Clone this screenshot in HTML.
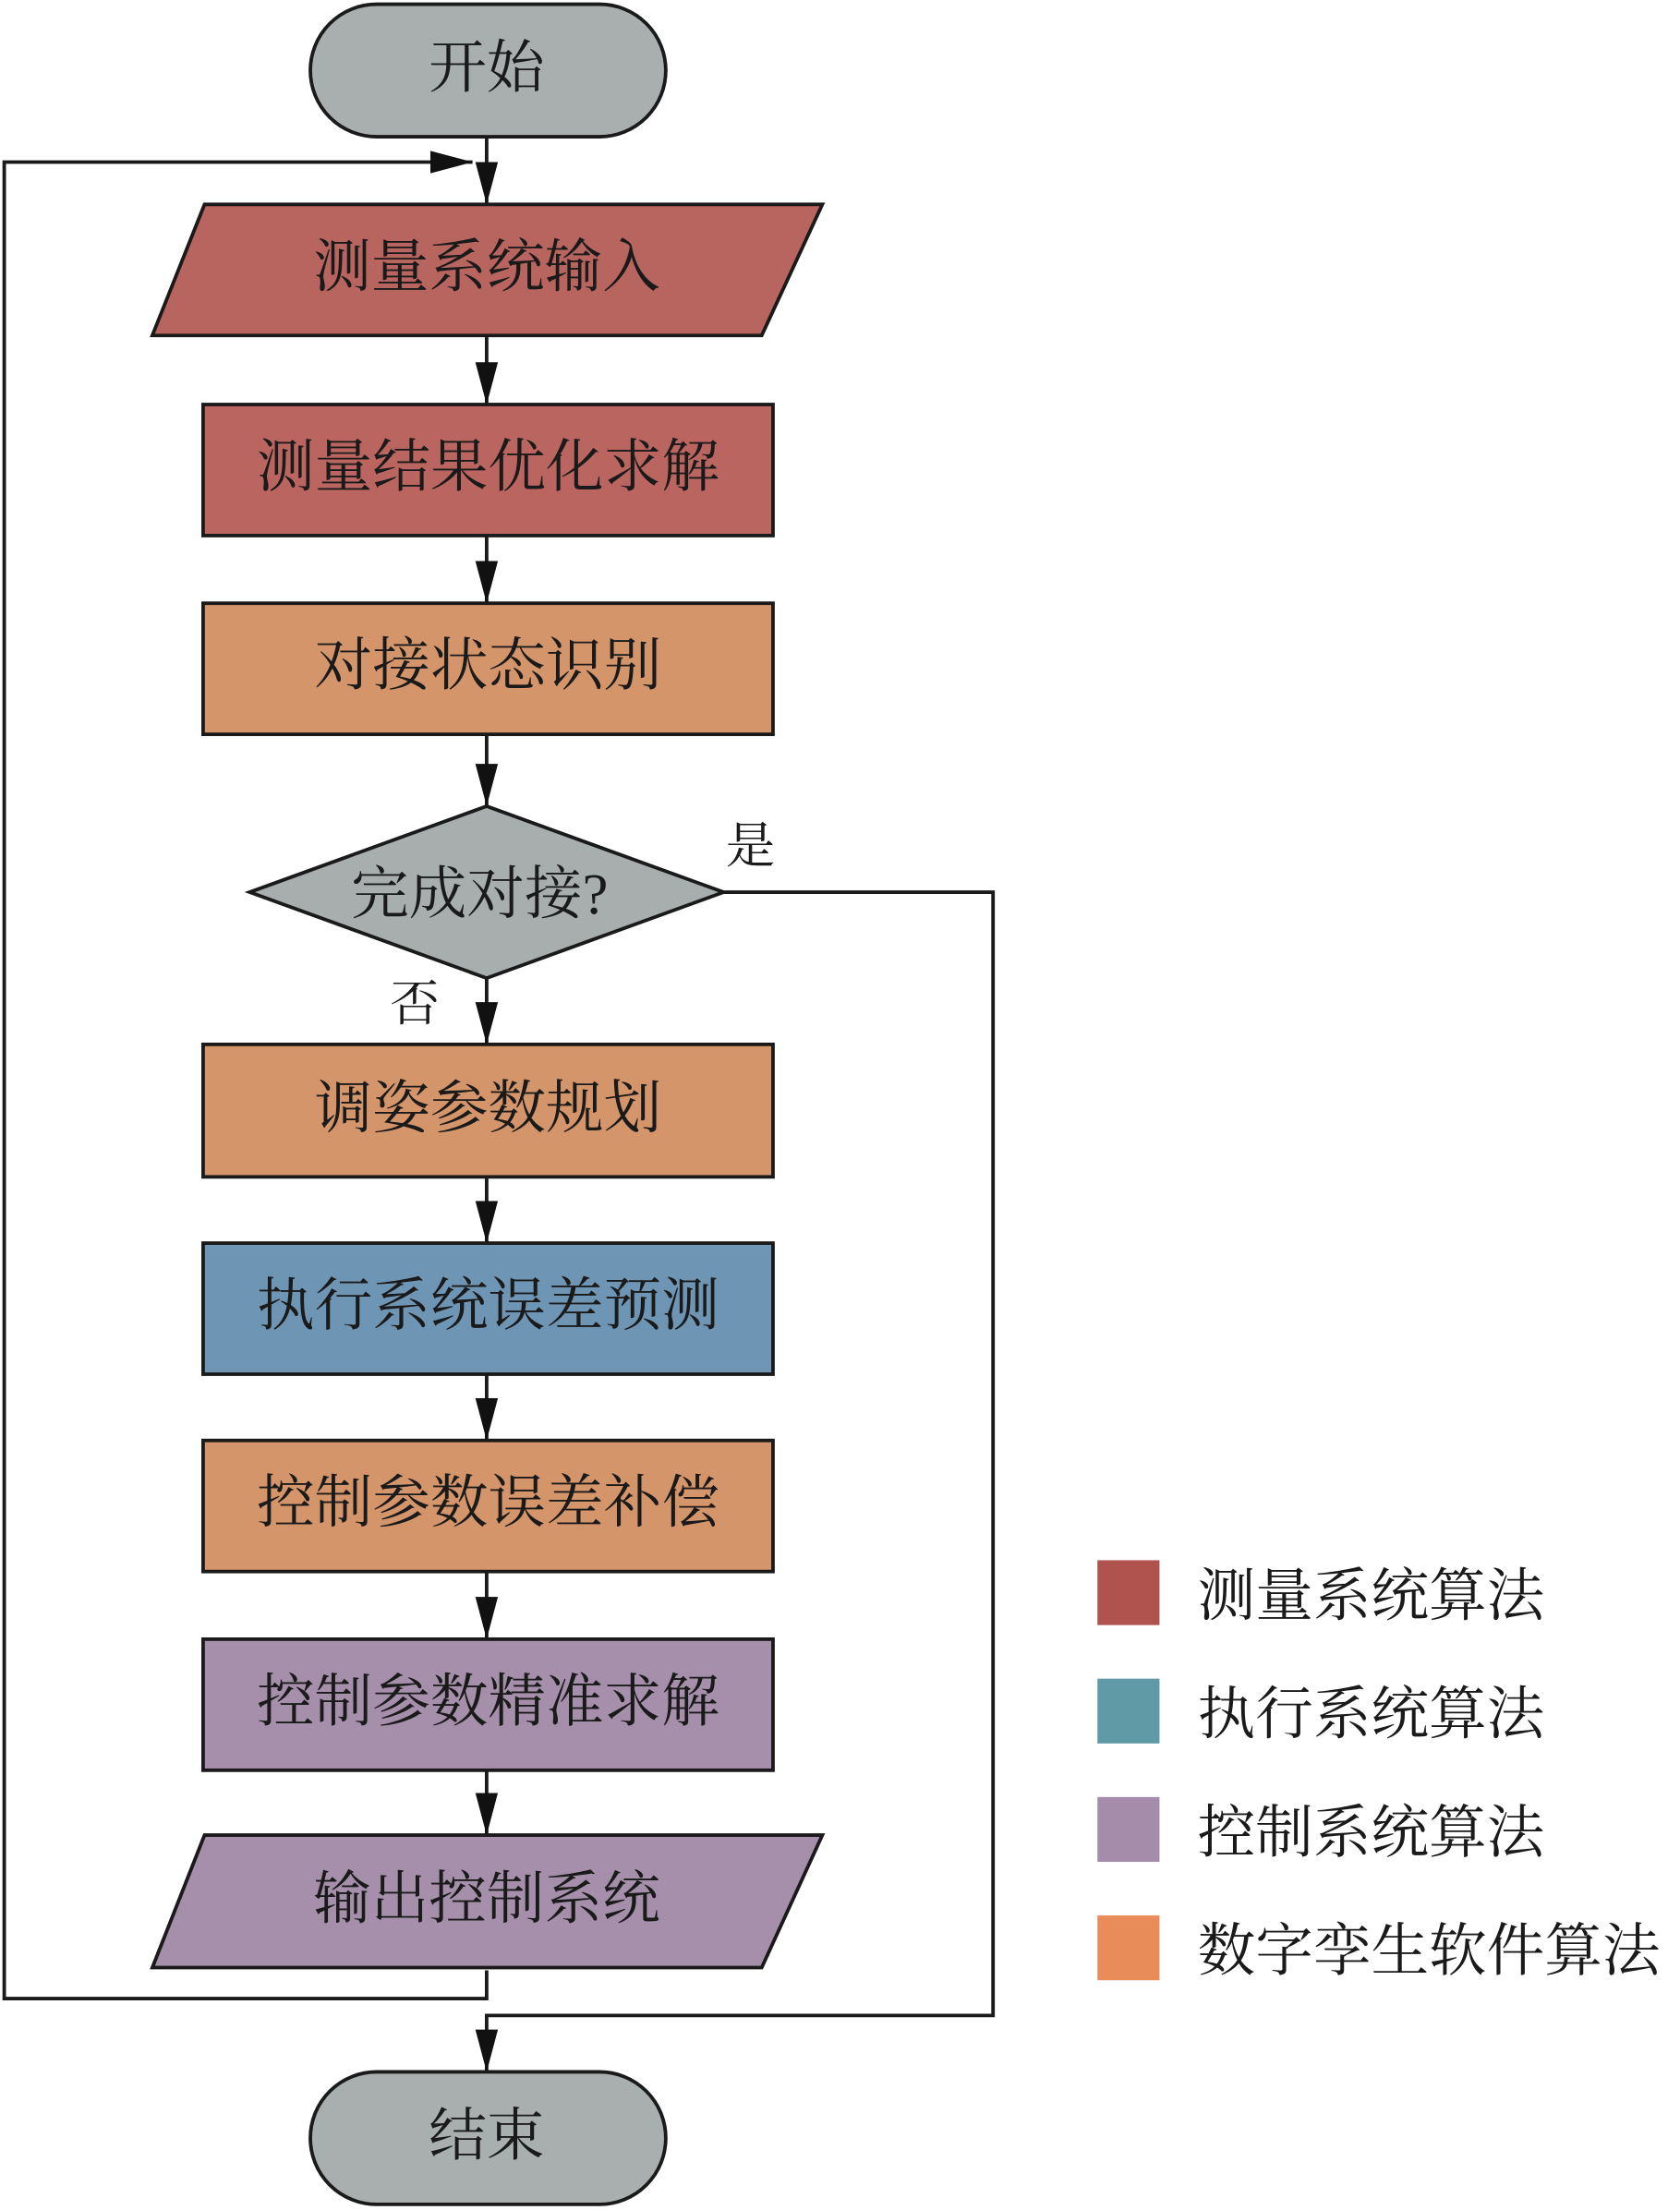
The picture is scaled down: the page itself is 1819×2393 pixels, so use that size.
<!DOCTYPE html>
<html><head><meta charset="utf-8"><style>
html,body{margin:0;padding:0;background:#fff;}
svg{display:block;}
text{font-family:"Liberation Serif","Noto Serif CJK SC",serif;fill:#1a1a1a;}
</style></head><body>
<svg width="1819" height="2393" viewBox="0 0 1191 1568" preserveAspectRatio="none" xmlns="http://www.w3.org/2000/svg">
<defs>
<marker id="a" markerWidth="30" markerHeight="16" refX="30" refY="8" orient="auto" markerUnits="userSpaceOnUse">
<path d="M0,0 L30,8 L0,16 Z" fill="#111"/>
</marker>
</defs>
<g stroke="#1a1a1a" stroke-width="2.5" fill="none">
<line x1="345" y1="97" x2="345" y2="145" marker-end="url(#a)"/>
<polyline points="345,1398 345,1418 3,1418 3,115 335,115" marker-end="url(#a)"/>
<line x1="345" y1="238" x2="345" y2="287" marker-end="url(#a)"/>
<line x1="345" y1="380" x2="345" y2="428" marker-end="url(#a)"/>
<line x1="345" y1="521" x2="345" y2="572" marker-end="url(#a)"/>
<line x1="345" y1="694" x2="345" y2="741" marker-end="url(#a)"/>
<line x1="345" y1="835" x2="345" y2="882" marker-end="url(#a)"/>
<line x1="345" y1="975" x2="345" y2="1022" marker-end="url(#a)"/>
<line x1="345" y1="1115" x2="345" y2="1163" marker-end="url(#a)"/>
<line x1="345" y1="1256" x2="345" y2="1302" marker-end="url(#a)"/>
<polyline points="513,633 704,633 704,1430 345,1430 345,1470" marker-end="url(#a)"/>
</g>
<g stroke="#1a1a1a" stroke-width="2.5">
<rect x="220" y="3" width="252" height="94" rx="47" fill="#a9afaf"/>
<polygon points="145,145 583,145 540,238 108,238" fill="#b9655f"/>
<rect x="144" y="287" width="404" height="93" fill="#bb6560"/>
<rect x="144" y="428" width="404" height="93" fill="#d5956b"/>
<polygon points="345,572 513,633 345,694 177,633" fill="#a8aeae"/>
<rect x="144" y="741" width="404" height="94" fill="#d5956b"/>
<rect x="144" y="882" width="404" height="93" fill="#6f95b4"/>
<rect x="144" y="1022" width="404" height="93" fill="#d5956b"/>
<rect x="144" y="1163" width="404" height="93" fill="#a58fab"/>
<polygon points="145,1302 583,1302 540,1396 108,1396" fill="#a58fab"/>
<rect x="220" y="1470" width="252" height="94" rx="47" fill="#a9afaf"/>
</g>
<rect x="778" y="1107" width="44" height="46" fill="#b0524e"/>
<rect x="778" y="1191" width="44" height="46" fill="#5f9aa6"/>
<rect x="778" y="1275" width="44" height="46" fill="#a58cab"/>
<rect x="778" y="1359" width="44" height="46" fill="#e88c5a"/>
<g font-size="41" text-anchor="middle">
<text x="345" y="62">开始</text>
<text x="345" y="203">测量系统输入</text>
<text x="346" y="345">测量结果优化求解</text>
<text x="346" y="486">对接状态识别</text>
<text x="340" y="648">完成对接?</text>
<text x="346" y="800">调姿参数规划</text>
<text x="346" y="940">执行系统误差预测</text>
<text x="346" y="1080">控制参数误差补偿</text>
<text x="346" y="1221">控制参数精准求解</text>
<text x="345" y="1361">输出控制系统</text>
<text x="345" y="1529">结束</text>
<text x="532" y="612" font-size="35">是</text>
<text x="294" y="724" font-size="35">否</text>
</g>
<g font-size="41">
<text x="849" y="1146">测量系统算法</text>
<text x="849" y="1230">执行系统算法</text>
<text x="849" y="1314">控制系统算法</text>
<text x="849" y="1398">数字孪生软件算法</text>
</g>
</svg>
</body></html>
